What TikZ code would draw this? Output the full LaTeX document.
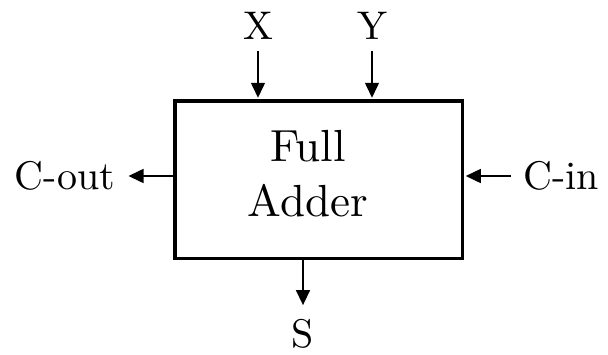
\documentclass[tikz,border=0pt]{standalone}
\usepackage{fontspec}
\setmainfont{lmroman10-regular.otf}
\usetikzlibrary{arrows.meta}
\begin{document}
\begin{tikzpicture}[x=1pt,y=-1pt,
  sig/.style={line width=1.5pt,-{Triangle[length=15pt,width=14pt]},shorten >=1.5pt},
  lbl/.style={inner sep=12pt,font=\fontsize{40}{48}\selectfont},
  blk/.style={draw,line width=3.5pt,minimum width=287.5pt,minimum height=157.5pt}]
\useasboundingbox[fill=white] (0,0) rectangle (608,354);
\node[blk](fa) at (318.75,179.75){};
\node[align=center,font=\fontsize{45}{55}\selectfont](fatext) at (308,174){Full\\Adder};
\node[lbl,anchor=base](inx) at (258,39){X};
\node[lbl,anchor=base](iny) at (372,39){Y};
\node[lbl,anchor=east](cout) at (127,176){C-out};
\node[lbl,anchor=west](cin) at (511,176){C-in};
\node[lbl,anchor=base](sum) at (303,347){S};
\draw[sig] (inx) -- (inx |- fa.north);
\draw[sig] (iny) -- (iny |- fa.north);
\draw[sig] (cin) -- (cin -| fa.east);
\draw[sig] (fa.west |- cout.east) -- (cout.east);
\draw[sig] (sum |- fa.south) -- (sum);
\end{tikzpicture}
\end{document}
